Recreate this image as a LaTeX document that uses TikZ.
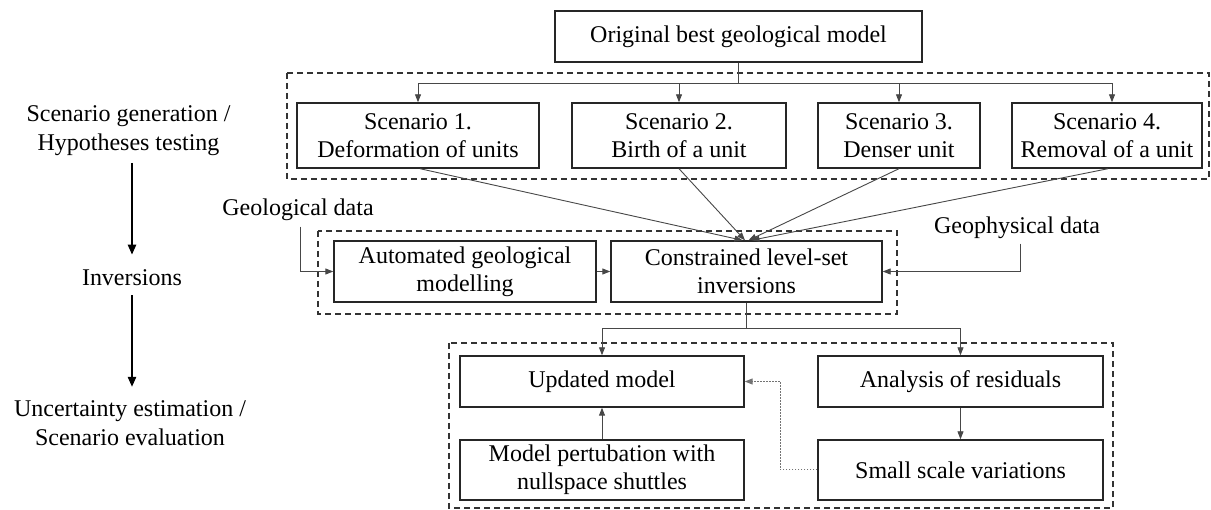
\documentclass[tikz,border=0pt]{standalone}
\usepackage{fontspec}
\setmainfont{Liberation Serif}
\usetikzlibrary{arrows.meta,calc}
\begin{document}
\begin{tikzpicture}[x=1pt,y=-1pt,
  font=\fontsize{24}{28}\selectfont,
  box/.style={draw=black!85,line width=1.4pt,inner sep=0pt,align=center,anchor=center},
  grp/.style={draw=black!80,line width=1.3pt,dash pattern=on 6pt off 4pt},
  conn/.style={draw=black!72,line width=0.9pt,-{Triangle[length=8pt,width=6pt]}},
  dotconn/.style={draw=black!55,line width=1pt,dash pattern=on 1.5pt off 1.5pt,-{Triangle[length=8pt,width=6pt]}},
  bigarrow/.style={draw=black,line width=2.2pt,-{Triangle[length=10pt,width=8pt]}},
  lbl/.style={inner sep=0pt,align=center},
]
\useasboundingbox (0,0) rectangle (1211,510);

% group frames
\draw[grp] (287,73) rectangle (1209,179);
\draw[grp] (318,231) rectangle (897,314);
\draw[grp] (449,343) rectangle (1113,508);

% boxes
\node[box,minimum width=367pt,minimum height=51pt] (top) at (738.5,36.5) {Original best geological model};
\node[box,minimum width=242pt,minimum height=65pt] (s1) at (418,135.5) {Scenario 1.\\Deformation of units};
\node[box,minimum width=214pt,minimum height=65pt] (s2) at (679,135.5) {Scenario 2.\\Birth of a unit};
\node[box,minimum width=162pt,minimum height=65pt] (s3) at (899,135.5) {Scenario 3.\\Denser unit};
\node[box,minimum width=190pt,minimum height=65pt] (s4) at (1107,135.5) {Scenario 4.\\Removal of a unit};
\node[box,minimum width=262pt,minimum height=61pt] (auto) at (465,271.5) {Automated geological\\modelling};
\node[box,minimum width=271pt,minimum height=61pt] (cons) at (746.5,271.5) {Constrained level-set\\inversions};
\node[box,minimum width=284pt,minimum height=51pt] (upd) at (602,381.5) {Updated model};
\node[box,minimum width=284pt,minimum height=60pt] (pert) at (602,470) {Model pertubation with\\nullspace shuttles};
\node[box,minimum width=285pt,minimum height=51pt] (anal) at (960.5,381.5) {Analysis of residuals};
\node[box,minimum width=285pt,minimum height=60pt] (small) at (960.5,470) {Small scale variations};

% labels
\node[lbl] (geo) at (298,209.5) {Geological data};
\node[lbl] (geoph) at (1017,227.4) {Geophysical data};
\node[lbl,font=\fontsize{24}{29}\selectfont] (sg) at (128.5,130.6) {Scenario generation /\\Hypotheses testing};
\node[lbl] (inv) at (132,278) {Inversions};
\node[lbl,font=\fontsize{24}{29}\selectfont] (ue) at (130,422.7) {Uncertainty estimation /\\Scenario evaluation};

% top branching
\draw[conn] (top.south) -- ++(0,21) -| (s1.north);
\draw[conn] (top.south) -- ++(0,21) -| (s2.north);
\draw[conn] (top.south) -- ++(0,21) -| (s3.north);
\draw[conn] (top.south) -- ++(0,21) -| ([xshift=5pt]s4.north);

% convergence
\draw[conn] ([xshift=2pt]s1.south) -- ([xshift=-4pt]cons.north);
\draw[conn] (s2.south) -- ([xshift=-1.5pt]cons.north);
\draw[conn] (s3.south) -- ([xshift=2pt]cons.north);
\draw[conn] ([xshift=1pt]s4.south) -- ([xshift=5pt]cons.north);

% data inputs
\draw[conn,shorten <=6pt] ([xshift=2pt]geo.south) |- (auto.west);
\draw[conn] (auto.east) -- (cons.west);
\draw[conn,shorten <=5pt] ([xshift=3pt]geoph.south) |- (cons.east);

% lower part
\draw[conn] (cons.south) -- ++(0,26) -| (upd.north);
\draw[conn] (cons.south) -- ++(0,26) -| (anal.north);
\draw[conn] (pert.north) -- (upd.south);
\draw[conn] (anal.south) -- (small.north);
\draw[dotconn] (small.west) -- ++(-37,0) |- (upd.east);

% left column
\draw[bigarrow,shorten <=7pt,shorten >=15pt] (sg.south -| inv.north) -- (inv.north);
\draw[bigarrow,shorten <=9pt,shorten >=13pt] (inv.south) -- (inv.south |- ue.north);
\end{tikzpicture}
\end{document}
